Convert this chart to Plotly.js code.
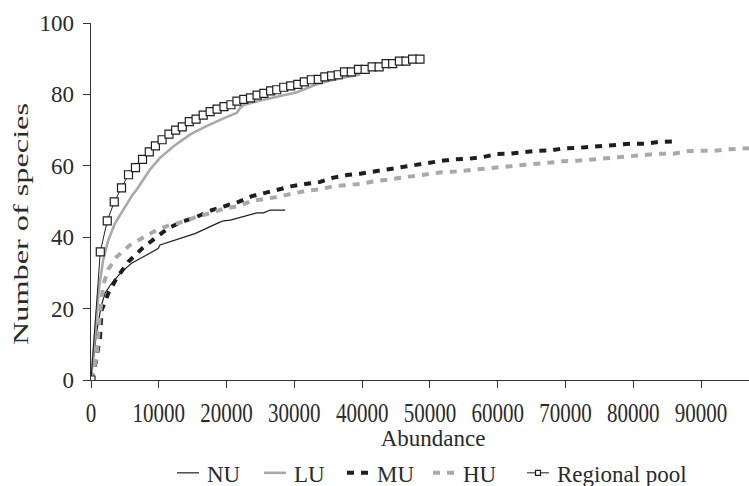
<!DOCTYPE html>
<html>
<head>
<meta charset="utf-8">
<script src="https://cdn.plot.ly/plotly-3.0.1.min.js"></script>
<style>
  html, body { margin: 0; padding: 0; background: #fff; overflow: hidden; }
  #chart { width: 775px; height: 486px; }
</style>
</head>
<body>
<div id="chart"></div>
<script>
// Species accumulation curves: number of species against abundance
const nuX = [0, 300, 800, 1470, 2060, 3040, 4510, 5990, 7960, 9440, 9900, 10180, 12390, 15340, 18770, 19560, 20550, 22510, 24480, 25460, 26440, 28650];
const nuY = [0, 5, 13, 20.5, 24.3, 27.1, 30.3, 32.7, 34.7, 36.2, 36.8, 37.8, 39.2, 41.0, 44.0, 44.6, 44.8, 45.7, 46.8, 46.8, 47.6, 47.6];

const luX = [0, 300, 700, 1200, 1800, 2550, 3540, 5010, 6000, 6980, 8000, 8720, 10220, 12190, 14650, 17110, 19560, 21530, 22000, 22510, 24970, 27920, 30380, 32840, 34800, 37760, 39720];
const luY = [0, 6, 16, 26, 33.6, 39.2, 43.9, 48.5, 51.5, 54.0, 56.8, 59.0, 62.3, 65.5, 68.8, 71.2, 73.3, 74.9, 76.2, 77.0, 78.3, 79.6, 80.6, 82.5, 83.7, 84.9, 85.6];

const muX = [0, 700, 1330, 1570, 2550, 3780, 5500, 7460, 9440, 11400, 13370, 15580, 17840, 20060, 21770, 23740, 25700, 27670, 29640, 31610, 33820, 35780, 37760, 39720, 41680, 43890, 45870, 47830, 49790, 51770, 53730, 55840, 57910, 59880, 61840, 63800, 65780, 67740, 69710, 71680, 73890, 75860, 77820, 79790, 81750, 83860, 86500];
const muY = [0, 5, 12, 19.6, 24.3, 28.5, 33.1, 36.7, 39.7, 42.5, 44.3, 45.7, 47.6, 49.0, 49.9, 51.5, 52.4, 53.4, 54.3, 54.9, 55.5, 56.7, 57.4, 57.8, 58.4, 59.0, 59.7, 60.2, 60.8, 61.4, 61.8, 62.0, 62.5, 63.3, 63.4, 63.9, 64.2, 64.3, 64.9, 65.0, 65.3, 65.6, 66.1, 66.2, 66.2, 66.7, 66.9];

const huX = [0, 830, 1300, 1810, 2550, 3780, 5750, 7710, 9680, 11650, 13610, 15870, 17790, 19560, 21770, 23740, 25700, 27670, 29640, 31860, 33820, 35780, 37760, 39720, 41680, 43890, 45870, 47830, 49790, 51770, 53730, 55840, 57910, 59880, 61840, 63800, 65780, 67740, 69710, 71680, 73890, 75860, 77820, 79790, 81750, 83860, 85930, 87890, 89870, 91830, 93800, 96500, 99500];
const huY = [0, 6.5, 18, 26.6, 31.0, 34.5, 37.8, 39.9, 42.0, 43.4, 44.3, 45.9, 46.8, 48.0, 48.7, 50.2, 50.8, 51.3, 52.2, 53.0, 53.4, 54.3, 54.6, 54.9, 55.6, 56.2, 56.6, 57.2, 57.7, 58.2, 58.4, 58.8, 59.3, 59.7, 60.0, 60.4, 60.6, 60.9, 61.3, 61.4, 61.8, 62.2, 62.5, 62.7, 63.2, 63.4, 63.4, 64.1, 64.2, 64.2, 64.6, 64.9, 65.2];

const poolX = [0, 1370, 2400, 3430, 4500, 5530, 6560, 7600, 8600, 9500, 10490, 11500, 12490, 13470, 14500, 15500, 16550, 17580, 18600, 19620, 20640, 21530, 22540, 23530, 24500, 25500, 26500, 27400, 28430, 29460, 30500, 31470, 32500, 33530, 34500, 35500, 36470, 37400, 38400, 39460, 40440, 41470, 42500, 43530, 44500, 45490, 46470, 47440, 48530];
const poolY = [0, 35.9, 44.6, 49.9, 53.8, 57.5, 59.5, 61.8, 63.9, 65.6, 67.3, 68.9, 70.0, 70.9, 72.4, 73.1, 74.2, 75.2, 75.9, 76.6, 77.1, 78.1, 78.6, 79.0, 79.8, 80.3, 81.0, 81.3, 82.0, 82.4, 82.8, 83.5, 84.1, 84.2, 84.9, 85.2, 85.5, 86.3, 86.3, 87.0, 87.0, 87.7, 87.7, 88.6, 88.6, 89.3, 89.3, 89.9, 89.9];

const xTicks = [0, 10000, 20000, 30000, 40000, 50000, 60000, 70000, 80000, 90000];
const yTicks = [0, 20, 40, 60, 80, 100];

const BLACK = '#1e1e1e';
const GREY = '#a9a9a9';
const TEXT = '#2a2a2a';
const SERIF = 'Liberation Serif, Times New Roman, serif';

const traces = [
  { name: 'NU', x: nuX, y: nuY, mode: 'lines', line: { color: BLACK, width: 1.2 } },
  { name: 'LU', x: luX, y: luY, mode: 'lines', line: { color: GREY, width: 2.6 } },
  { name: 'MU', x: muX, y: muY, mode: 'lines', line: { color: BLACK, width: 4, dash: '7px,7px' } },
  { name: 'HU', x: huX, y: huY, mode: 'lines', line: { color: GREY, width: 4, dash: '7px,7px' } },
  { name: 'Regional pool', x: poolX, y: poolY, mode: 'lines+markers',
    line: { color: BLACK, width: 1 },
    marker: { symbol: 'square', size: 8, color: '#ffffff', line: { color: BLACK, width: 1.2 } } }
];

const layout = {
  width: 775,
  height: 486,
  margin: { l: 91, r: 0, t: 23, b: 106 },
  paper_bgcolor: '#ffffff',
  plot_bgcolor: '#ffffff',
  font: { family: SERIF, size: 22, color: TEXT },
  showlegend: true,
  legend: {
    orientation: 'h',
    xref: 'container', x: 0.559, xanchor: 'center',
    yref: 'container', y: 0.027, yanchor: 'middle',
    font: { family: SERIF, size: 23, color: TEXT },
    itemwidth: 30,
    traceorder: 'normal'
  },
  xaxis: {
    automargin: false,
    range: [0, 100900],
    tickvals: xTicks,
    ticktext: xTicks.map(String),
    tickangle: 0,
    ticks: 'outside', ticklen: 7, tickwidth: 1, tickcolor: '#333',
    showline: true, linecolor: '#333', linewidth: 1,
    showgrid: false, zeroline: false,
    tickfont: { family: SERIF, size: 28, color: TEXT },
    title: { text: 'Abundance', font: { family: SERIF, size: 23, color: TEXT }, standoff: 6 }
  },
  yaxis: {
    automargin: false,
    range: [0, 100],
    tickvals: yTicks,
    ticks: 'outside', ticklen: 7, tickwidth: 1, tickcolor: '#333',
    showline: true, linecolor: '#333', linewidth: 1,
    showgrid: false, zeroline: false,
    tickfont: { family: SERIF, size: 23, color: TEXT },
    title: { text: 'Number of species', font: { family: SERIF, size: 21, color: TEXT } }
  }
};

function parseTranslate(el) {
  const m = /translate\(\s*([-\d.e]+)[\s,]*([-\d.e]+)?\s*\)/.exec(el.getAttribute('transform') || '');
  return m ? [parseFloat(m[1]), m[2] ? parseFloat(m[2]) : 0] : [0, 0];
}

// Typesetting touches: tall, narrow tick numbers under the x axis, a long
// y-axis title, and compact legend samples.
function finish(gd) {
  gd.querySelectorAll('.xtick text').forEach(t => {
    const len = t.getComputedTextLength();
    t.setAttribute('textLength', (len * 0.75).toFixed(2));
    t.setAttribute('lengthAdjust', 'spacingAndGlyphs');
  });

  gd.querySelectorAll('.ytick text').forEach(t => {
    const r = t.getBoundingClientRect();
    const dx = 74 - r.right;
    t.setAttribute('x', (parseFloat(t.getAttribute('x') || 0) + dx).toFixed(2));
  });

  const yt = gd.querySelector('.ytitle');
  if (yt) {
    yt.setAttribute('textLength', '242');
    yt.setAttribute('lengthAdjust', 'spacingAndGlyphs');
    const r = yt.getBoundingClientRect();
    const dx = 21 - (r.left + r.width / 2);
    const dy = 224 - (r.top + r.height / 2);
    yt.setAttribute('transform', `translate(${dx.toFixed(2)},${dy.toFixed(2)}) ` + (yt.getAttribute('transform') || ''));
  }

  const box = gd.querySelector('.legend .scrollbox');
  if (box) box.removeAttribute('clip-path');
  const starts = [177, 264, 347, 433, 527];
  gd.querySelectorAll('.legend .traces').forEach((g, i) => {
    const line = g.querySelector('path.js-line');
    if (!line) return;
    line.setAttribute('d', 'M5,0h22');
    const left = line.getBoundingClientRect().left;
    const [tx, ty] = parseTranslate(g);
    g.setAttribute('transform', `translate(${(tx + starts[i] - left).toFixed(2)},${ty})`);
    const txt = g.querySelector('text.legendtext');
    if (txt) txt.setAttribute('x', '35');
    g.querySelectorAll('.legendpoints path.scatterpts').forEach(p => {
      p.setAttribute('transform', 'translate(16,0)');
      p.setAttribute('d', 'M2.5,2.5H-2.5V-2.5H2.5Z');
    });
  });
}

Plotly.newPlot('chart', traces, layout, { staticPlot: true, displayModeBar: false })
  .then(gd => document.fonts.ready.then(() => finish(gd)));
</script>
</body>
</html>
